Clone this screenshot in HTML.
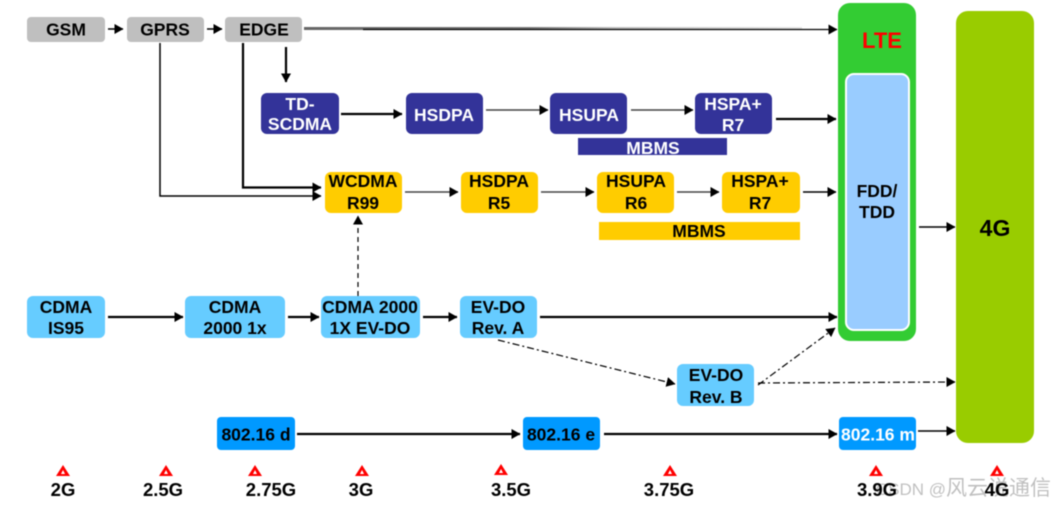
<!DOCTYPE html>
<html><head><meta charset="utf-8"><style>
html,body{margin:0;padding:0;background:#fff;width:1054px;height:505px;overflow:hidden}
svg{display:block;filter:blur(.45px)}
text{font-family:"Liberation Sans","Noto Sans CJK SC",sans-serif;font-weight:bold;font-size:17.5px;text-anchor:middle;fill:#000}
.w{fill:#fff}
.m{font-size:18.5px}
.l{stroke:#000;fill:none;stroke-width:1.5}
.t{stroke-width:2.2}
.d{stroke-width:1.2}
</style></head><body>
<svg width="1054" height="505" viewBox="0 0 1054 505" xmlns="http://www.w3.org/2000/svg">
<defs>
<marker id="a" markerUnits="userSpaceOnUse" markerWidth="9" markerHeight="10" refX="8.5" refY="5" orient="auto"><path d="M0 0L9 5L0 10Z" fill="#000"/></marker>
<linearGradient id="g" gradientUnits="userSpaceOnUse" x1="304" y1="0" x2="802" y2="0"><stop offset="0" stop-color="#666"/><stop offset=".45" stop-color="#777"/><stop offset=".62" stop-color="#bbb"/><stop offset="1" stop-color="#e4e4e4"/></linearGradient>
</defs>

<!-- big blocks -->
<rect x="838" y="3" width="78" height="338" rx="12" fill="#33cc33"/>
<rect x="846" y="74" width="63" height="256" rx="8" fill="#99ccff" stroke="#fff" stroke-width="2"/>
<rect x="956" y="11" width="78" height="432" rx="12" fill="#99cc00"/>

<!-- gray -->
<g fill="#bfbfbf">
<rect x="27" y="17" width="78" height="25" rx="4"/>
<rect x="127" y="17" width="77" height="25" rx="4"/>
<rect x="225" y="17" width="77" height="25" rx="4"/>
</g>
<!-- navy -->
<g fill="#333399">
<rect x="261" y="93" width="78" height="41" rx="6"/>
<rect x="406" y="93" width="77" height="41" rx="6"/>
<rect x="550" y="93" width="77" height="41" rx="6"/>
<rect x="695" y="93" width="77" height="41" rx="6"/>
<rect x="578" y="138" width="149" height="17"/>
</g>
<!-- yellow -->
<g fill="#ffcc00">
<rect x="325" y="172" width="77" height="41" rx="6"/>
<rect x="461" y="172" width="77" height="41" rx="6"/>
<rect x="597" y="172" width="77" height="41" rx="6"/>
<rect x="722" y="172" width="78" height="41" rx="6"/>
<rect x="599" y="222" width="201" height="18"/>
</g>
<!-- light blue -->
<g fill="#66ccff">
<rect x="27" y="296" width="78" height="42" rx="6"/>
<rect x="185" y="296" width="100" height="42" rx="6"/>
<rect x="321" y="296" width="99" height="42" rx="6"/>
<rect x="460" y="296" width="77" height="42" rx="6"/>
<rect x="677" y="364" width="77" height="42" rx="6"/>
</g>
<!-- blue -->
<g fill="#0099ff">
<rect x="217" y="417" width="78" height="33" rx="4"/>
<rect x="523" y="417" width="77" height="33" rx="4"/>
<rect x="839" y="417" width="77" height="33" rx="4"/>
</g>

<!-- connectors -->
<rect x="304" y="27" width="498" height="3" fill="url(#g)"/>
<g class="l">
<path d="M108 29H123" marker-end="url(#a)"/>
<path d="M207 29H222" marker-end="url(#a)"/>
<path d="M363 29.500H837" stroke-width="1.2" marker-end="url(#a)"/>
<path d="M286 47V82" class="t" marker-end="url(#a)"/>
<path d="M160 43V196H321" marker-end="url(#a)"/>
<path d="M243 43V187.500H321" class="t" marker-end="url(#a)"/>
<path d="M341 114H402" class="t" marker-end="url(#a)"/>
<path d="M486 110H548" marker-end="url(#a)" stroke="#444"/>
<path d="M631 110H693" marker-end="url(#a)" stroke="#444"/>
<path d="M776 119H836" class="t" marker-end="url(#a)"/>
<path d="M405 192H458" marker-end="url(#a)" stroke="#444"/>
<path d="M541 192H594" marker-end="url(#a)" stroke="#444"/>
<path d="M677 192H719" marker-end="url(#a)" stroke="#444"/>
<path d="M803 192H836" marker-end="url(#a)"/>
<path d="M919 227H955" marker-end="url(#a)"/>
<path d="M108 317H183" class="t" marker-end="url(#a)"/>
<path d="M288 317H319" class="t" marker-end="url(#a)"/>
<path d="M423 317H457" class="t" marker-end="url(#a)"/>
<path d="M540 317H837" class="t" marker-end="url(#a)"/>
<path d="M297 434H520" class="t" marker-end="url(#a)"/>
<path d="M604 434H837" class="t" marker-end="url(#a)"/>
<path d="M918 431H955" marker-end="url(#a)"/>
<path d="M358 296V216" class="d" stroke-dasharray="5 4" marker-end="url(#a)"/>
<path d="M498 340L675 384" class="d" stroke-dasharray="7 3 2 3" marker-end="url(#a)"/>
<path d="M758 385L835 328" class="d" stroke-dasharray="7 3 2 3" marker-end="url(#a)"/>
<path d="M758 383L955 382" class="d" stroke-dasharray="7 3 2 3" marker-end="url(#a)"/>
</g>

<!-- labels -->
<text x="66" y="35.500">GSM</text>
<text x="165" y="35.500">GPRS</text>
<text x="264" y="35.500">EDGE</text>
<text class="w" x="300" y="110">TD-</text>
<text class="w" x="300" y="130">SCDMA</text>
<text class="w" x="444" y="121">HSDPA</text>
<text class="w" x="589" y="121">HSUPA</text>
<text class="w" x="733" y="110">HSPA+</text>
<text class="w" x="733" y="131">R7</text>
<text class="w" x="653" y="154">MBMS</text>
<text x="363" y="187">WCDMA</text><text x="363" y="209">R99</text>
<text x="499" y="187">HSDPA</text><text x="499" y="209">R5</text>
<text x="636" y="187">HSUPA</text><text x="636" y="209">R6</text>
<text x="760" y="187">HSPA+</text><text x="760" y="209">R7</text>
<text x="699" y="237">MBMS</text>
<text x="66" y="313">CDMA</text><text x="66" y="334">IS95</text>
<text x="235" y="313">CDMA</text><text x="235" y="334">2000 1x</text>
<text x="370" y="313">CDMA 2000</text><text x="370" y="334">1X EV-DO</text>
<text x="498" y="313">EV-DO</text><text x="498" y="334">Rev. A</text>
<text x="716" y="381">EV-DO</text><text x="716" y="403">Rev. B</text>
<text x="256" y="440.500">802.16 d</text>
<text x="561" y="440.500">802.16 e</text>
<text class="w" x="878" y="440.500">802.16 m</text>
<text x="882" y="48" style="font-size:22px;fill:#f00">LTE</text>
<text x="877" y="197">FDD/</text>
<text x="877" y="218">TDD</text>
<text x="995" y="236" style="font-size:23px">4G</text>

<!-- milestones -->
<g fill="#f00">
<path d="M63 465L70 476H56Z"/>
<path d="M166 465L173 476H159Z"/>
<path d="M255 465L262 476H248Z"/>
<path d="M362 465L369 476H355Z"/>
<path d="M501 464L508 475H494Z"/>
<path d="M670 465L677 476H663Z"/>
<path d="M876 465L883 476H869Z"/>
<path d="M997 465L1004 476H990Z"/>
</g>
<g fill="#fff">
<path d="M63 470L65 474H61Z"/>
<path d="M166 470L168 474H164Z"/>
<path d="M255 470L257 474H253Z"/>
<path d="M362 470L364 474H360Z"/>
<path d="M501 469L503 473H499Z"/>
<path d="M670 470L672 474H668Z"/>
<path d="M876 470L878 474H874Z"/>
<path d="M997 470L999 474H995Z"/>
</g>
<text class="m" x="63" y="496">2G</text>
<text class="m" x="163" y="496">2.5G</text>
<text class="m" x="271" y="496">2.75G</text>
<text class="m" x="361" y="496">3G</text>
<text class="m" x="511" y="496">3.5G</text>
<text class="m" x="669" y="496">3.75G</text>
<text class="m" x="877" y="496">3.9G</text>
<text class="m" x="997" y="496">4G</text>
<text x="1051" y="495" style="text-anchor:end;font-weight:normal;font-size:21px;fill:#000;fill-opacity:.25"><tspan style="font-size:17px">CSDN @</tspan>风云说通信</text>
</svg>
</body></html>
